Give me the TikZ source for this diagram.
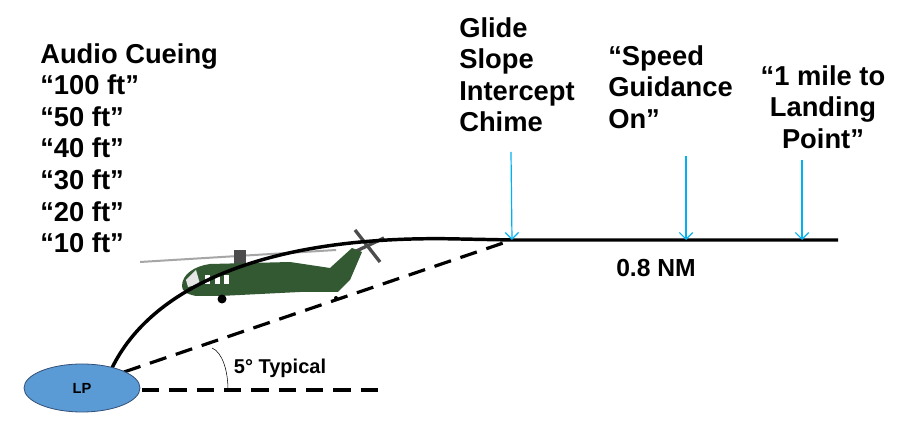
\documentclass[tikz,border=0pt]{standalone}
\usepackage{fontspec}
\setmainfont{Liberation Sans}
\usetikzlibrary{shapes.geometric,arrows.meta}
\begin{document}
\begin{tikzpicture}[x=0.75pt,y=-0.75pt,
  lbl/.style={font=\bfseries\fontsize{20.5}{23.7}\selectfont,align=left,inner sep=0,anchor=north west},
  cue/.style={-{Straight Barb[length=5pt]},draw={rgb,255:red,0;green,176;blue,240},line width=0.9pt},
  dsh/.style={line width=2.4pt,dash pattern=on 13pt off 7.5pt}]
\useasboundingbox (0,0) rectangle (904,448);
\fill[white] (0,0) rectangle (904,448);
% text
\node[lbl] (audio) at (40,43) {Audio Cueing\\“100 ft”\\“50 ft”\\“40 ft”\\“30 ft”\\“20 ft”\\“10 ft”};
\node[lbl] (glide) at (459,17) {Glide\\Slope\\Intercept\\Chime};
\node[lbl] (speed) at (608,45) {“Speed\\Guidance\\On”};
\node[lbl,align=center,anchor=north] (mile) at (823,65) {“1 mile to\\Landing\\Point”};
\node[font=\bfseries\fontsize{18.5}{20}\selectfont] (nm) at (656,268) {0.8 NM};
\node[font=\bfseries\fontsize{15}{17}\selectfont] (typ) at (280,368) {5° Typical};
% ground coords
\coordinate (gs) at (512,240);
\coordinate (endl) at (838,240);
\coordinate (a1) at (686,240);
\coordinate (a2) at (802,240);
\coordinate (dstart) at (124,372);
\coordinate (hstart) at (142,390);
\coordinate (hend) at (385,390);
% helicopter (simplified)
\begin{scope}
\fill[gray!70] (140,261) -- (336,249) -- (336,251) -- (140,263) -- cycle;
\fill[gray!60!black] (234,250) rectangle (246,264);
\draw[line width=2.5pt,black!70] (355,230) -- (380,262);
\draw[line width=2.5pt,black!70] (350,254) -- (384,238);
\fill[green!25!black!60!gray] (182,286) .. controls (182,274) and (195,266) .. (210,264)
  -- (290,262) -- (330,268) -- (352,248) -- (362,252) -- (350,280) -- (338,292)
  -- (300,292) -- (220,296) -- (196,296) .. controls (186,294) and (182,291) .. (182,286) -- cycle;
\fill[white!80!gray] (186,280) -- (196,270) -- (200,284) -- (188,287) -- cycle;
\foreach \x in {205,215,224} \fill[white] (\x,275) rectangle +(5,9);
\fill[black] (222,299) circle (4.5);
\fill[black] (336,298) circle (2);
\end{scope}
% lines
\draw[dsh] (dstart) -- (gs);
\draw[dsh] (hstart) -- (hend);
\draw[line width=2.6pt] (112,368) .. controls (150,290) and (260,234) .. (460,239) -- (gs) -- (endl);
\draw[thin] (228,390) .. controls (228,370) and (222,352) .. (212,348);
% LP
\node[ellipse,draw={rgb,255:red,50;green,80;blue,120},line width=0.6pt,fill={rgb,255:red,91;green,155;blue,213},minimum width=87pt,minimum height=36pt,inner sep=0,font=\bfseries\fontsize{11}{12}\selectfont] (lp) at (82,388) {LP};
% arrows
\draw[cue] (511,152) -- (gs);
\draw[cue] (686,156) -- (a1);
\draw[cue] (802,160) -- (a2);
\end{tikzpicture}
\end{document}
